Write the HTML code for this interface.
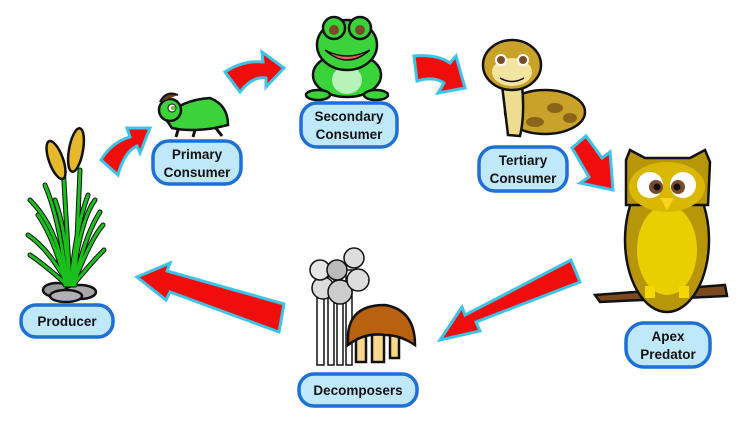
<!DOCTYPE html>
<html><head><meta charset="utf-8"><style>
html,body{margin:0;padding:0;background:#fff;}
svg{display:block;}
text{font-family:"Liberation Sans",sans-serif;font-weight:bold;font-size:13.5px;fill:#111;text-anchor:middle;}
.lbl{fill:#bfe9fb;stroke:#1e6fd6;stroke-width:3.5;}
.arr{fill:#f20d0d;stroke:#3cc3e8;stroke-width:3;stroke-linejoin:miter;}
.k{stroke:#111;stroke-width:2.5;}
</style></head><body>
<svg width="750" height="430" viewBox="0 0 750 430">
<!-- arrows -->
<path class="arr" d="M101,160 Q112,142 130,137 L127,128 L150,128 L140,153 L137,146 Q124,152 118,175 Z"/>
<path class="arr" d="M225,72 Q243,60 263,62 L262,52 L284,68 L266,87 L266,78 Q252,76 240,92 Z"/>
<path class="arr" d="M414,56 Q437,54 450,63 L456,56 L465,88 L438,93 L444,83 Q434,76 417,81 Z"/>
<path class="arr" d="M572,148 L586,136 L602,158 L610,152 L613,190 L580,183 L589,177 Z"/>
<path class="arr" d="M284,304 L279,332 L170,292 L166,300 L137,277 L170,263 L167,271 Z"/>
<path class="arr" d="M571,260 L580,282 L476,322 L480,331 L440,340 L462,307 L465,315 Z"/>

<!-- producer plant -->
<g>
<ellipse cx="57" cy="290" rx="14" ry="7" fill="#9a9a9a" class="k" stroke-width="1.5"/>
<ellipse cx="80" cy="292" rx="16" ry="7" fill="#a8a8a8" class="k" stroke-width="1.5"/>
<ellipse cx="66" cy="296" rx="16" ry="6" fill="#b0b0b0" class="k" stroke-width="1.5"/>
<g id="bl" fill="none" stroke-linecap="round">
<path d="M65,285 Q60,230 30,200"/><path d="M67,285 Q60,220 45,185"/><path d="M70,285 L63,165"/>
<path d="M72,285 Q80,220 95,200"/><path d="M73,285 Q90,240 103,225"/><path d="M68,285 Q50,250 28,235"/><path d="M75,285 L80,170"/>
<path d="M66,285 Q55,240 38,215"/><path d="M74,285 Q85,235 100,212"/><path d="M69,285 Q66,230 55,200"/><path d="M71,285 Q75,230 88,195"/><path d="M67,285 Q45,265 30,255"/><path d="M73,285 Q92,262 104,250"/>
</g>
<use href="#bl" stroke="#111" stroke-width="5"/>
<use href="#bl" stroke="#1bbf1b" stroke-width="3"/>
<ellipse cx="56" cy="160" rx="7" ry="20" fill="#e6b82e" class="k" stroke-width="1.5" transform="rotate(-20 56 160)"/>
<ellipse cx="76" cy="150" rx="7" ry="22" fill="#e6b82e" class="k" stroke-width="1.5" transform="rotate(10 76 150)"/>
</g>

<!-- grasshopper -->
<g>
<path d="M165,118 Q180,100 210,98 Q228,105 228,125 L215,128 Q190,132 172,128 Z" fill="#3ad43a" class="k" stroke-width="2"/>
<circle cx="170" cy="110" r="11" fill="#3ad43a" class="k" stroke-width="2"/>
<circle cx="172" cy="108" r="4" fill="#fff" stroke="#111"/><circle cx="173" cy="108" r="2" fill="#6b3"/>
<path d="M160,102 Q166,90 178,95" fill="#6b3a1a" stroke="#111" stroke-width="2"/>
<path d="M178,130 L176,137 M195,130 L193,137 M215,127 L222,136" stroke="#111" stroke-width="3"/>
</g>

<!-- frog -->
<g>
<ellipse cx="347" cy="75" rx="34" ry="22" fill="#3ad43a" class="k"/>
<ellipse cx="347" cy="80" rx="15" ry="14" fill="#b9f2b9"/>
<ellipse cx="347" cy="45" rx="30" ry="25" fill="#3ad43a" class="k"/>
<circle cx="334" cy="28" r="11" fill="#3ad43a" class="k"/><circle cx="360" cy="28" r="11" fill="#3ad43a" class="k"/>
<circle cx="334" cy="30" r="5" fill="#7a4a2a"/><circle cx="360" cy="30" r="5" fill="#7a4a2a"/>
<path d="M325,50 Q347,62 370,50 Q347,70 325,50Z" fill="#e86060" stroke="#111" stroke-width="1.5"/>
<ellipse cx="318" cy="95" rx="12" ry="5" fill="#3ad43a" class="k" stroke-width="2"/>
<ellipse cx="376" cy="95" rx="12" ry="5" fill="#3ad43a" class="k" stroke-width="2"/>
</g>

<!-- snake -->
<g>
<ellipse cx="545" cy="112" rx="40" ry="22" fill="#c9a22a" class="k"/>
<ellipse cx="555" cy="108" rx="8" ry="5" fill="#8a6418"/><ellipse cx="570" cy="118" rx="7" ry="5" fill="#8a6418"/><ellipse cx="535" cy="122" rx="9" ry="5" fill="#8a6418"/>
<path d="M502,85 L522,85 Q525,115 520,136 L508,135 Q505,110 502,85Z" fill="#f0dc90" class="k" stroke-width="2"/>
<ellipse cx="512" cy="65" rx="29" ry="25" fill="#c9a22a" class="k"/>
<ellipse cx="512" cy="72" rx="20" ry="14" fill="#f3e4a0"/>
<circle cx="501" cy="60" r="5" fill="#7a4a2a" stroke="#fff" stroke-width="2"/><circle cx="523" cy="60" r="5" fill="#7a4a2a" stroke="#fff" stroke-width="2"/>
<path d="M500,78 Q512,85 524,78" fill="none" stroke="#111" stroke-width="1.5"/>
</g>

<!-- owl -->
<g>
<path d="M595,295 L725,285 L727,296 L600,302Z" fill="#7a4a1e" class="k" stroke-width="2"/>
<ellipse cx="667" cy="240" rx="42" ry="72" fill="#b8960a" class="k"/>
<ellipse cx="667" cy="250" rx="30" ry="45" fill="#e9cf00"/>
<path d="M626,160 L630,150 L645,158 L690,158 L705,150 L710,162 L708,205 L626,205Z" fill="#b8960a" class="k"/>
<ellipse cx="667" cy="187" rx="38" ry="25" fill="#d8b800"/>
<circle cx="650" cy="185" r="13" fill="#fff"/><circle cx="683" cy="185" r="13" fill="#fff"/>
<circle cx="656" cy="187" r="7" fill="#7a4a2a"/><circle cx="678" cy="187" r="7" fill="#7a4a2a"/>
<circle cx="657" cy="187" r="3.5" fill="#111"/><circle cx="677" cy="187" r="3.5" fill="#111"/>
<path d="M660,198 L674,198 L667,210Z" fill="#f5d520"/>
<rect x="645" y="286" width="10" height="12" fill="#f2d800"/><rect x="679" y="286" width="10" height="12" fill="#f2d800"/>
</g>

<!-- mushrooms -->
<g>
<g stroke="#111" stroke-width="1.5" fill="#fff">
<rect x="317" y="280" width="7" height="85"/><rect x="328" y="275" width="6" height="90"/><rect x="337" y="285" width="6" height="80"/><rect x="346" y="270" width="6" height="95"/>
<circle cx="354" cy="258" r="10" fill="#ddd"/><circle cx="323" cy="288" r="11" fill="#ddd"/><circle cx="340" cy="292" r="12" fill="#ccc"/>
<circle cx="358" cy="280" r="11" fill="#ddd"/><circle cx="320" cy="270" r="10" fill="#e5e5e5"/><circle cx="337" cy="270" r="10" fill="#bbb"/>
</g>
<rect x="356" y="330" width="10" height="32" fill="#f7d88a" class="k" stroke-width="1.5"/>
<rect x="372" y="330" width="12" height="32" fill="#f7d88a" class="k" stroke-width="1.5"/>
<rect x="390" y="330" width="9" height="28" fill="#f7d88a" class="k" stroke-width="1.5"/>
<path d="M348,335 Q350,305 385,305 Q415,310 415,345 Q400,335 385,335 Q365,332 348,345Z" fill="#b8620f" class="k" stroke-width="2"/>
</g>

<!-- labels -->
<rect class="lbl" x="153" y="141" width="88" height="43" rx="16"/>
<text x="197" y="159">Primary</text><text x="197" y="177">Consumer</text>
<rect class="lbl" x="301" y="103" width="96" height="44" rx="16"/>
<text x="349" y="121">Secondary</text><text x="349" y="139">Consumer</text>
<rect class="lbl" x="479" y="147" width="88" height="44" rx="16"/>
<text x="523" y="165">Tertiary</text><text x="523" y="183">Consumer</text>
<rect class="lbl" x="21" y="305" width="92" height="32" rx="15"/>
<text x="67" y="326">Producer</text>
<rect class="lbl" x="299" y="374" width="118" height="32" rx="15"/>
<text x="358" y="395">Decomposers</text>
<rect class="lbl" x="626" y="323" width="84" height="44" rx="18"/>
<text x="668" y="341">Apex</text><text x="668" y="359">Predator</text>
</svg>
</body></html>
